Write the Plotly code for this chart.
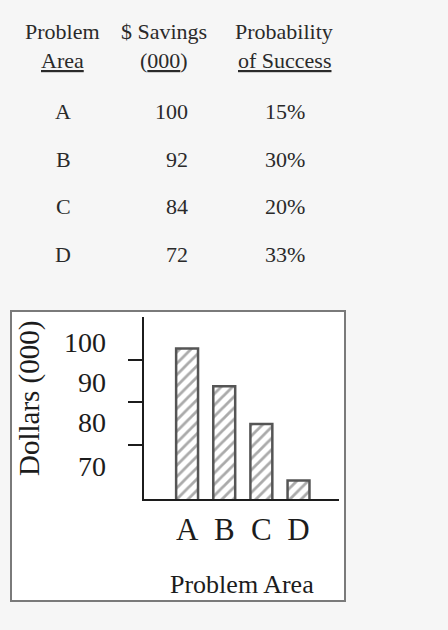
import plotly.graph_objects as go

# ---- data ----
categories = ["A", "B", "C", "D"]
savings = [100, 92, 84, 72]
probability = [15, 30, 20, 33]
y_tick_labels = ["100", "90", "80", "70"]

W, H = 448, 630
FONT = "Liberation Serif"
INK = "#1c1c1c"
BG = "#f6f6f6"


def px(x):
    return x / W


def py(y):
    return 1 - y / H


fig = go.Figure()

fig.add_trace(go.Bar(
    x=categories,
    y=savings,
    marker=dict(
        color="white",
        line=dict(color="#555555", width=2.5),
        pattern=dict(shape="/", fgcolor="#555555", bgcolor="white",
                     size=8, solidity=0.35),
    ),
    width=0.59,
    showlegend=False,
    hoverinfo="x+y",
))

annotations = []

# ---- table ----
tfont = dict(family=FONT, size=22, color="#2a2a2a")
col_x = [62, 164, 284]
headers1 = ["Problem", "$ Savings", "Probability"]
headers2 = ["<u>Area</u>", "(<u>000</u>)", "<u>of Success</u>"]
for cx, h1, h2 in zip(col_x, headers1, headers2):
    annotations.append(dict(x=px(cx), y=py(31), xref="paper", yref="paper",
                            text=h1, showarrow=False, font=tfont,
                            xanchor="center", yanchor="middle"))
    annotations.append(dict(x=px(cx), y=py(61), xref="paper", yref="paper",
                            text=h2, showarrow=False, font=tfont,
                            xanchor="center", yanchor="middle"))

row_y = [111, 159, 207, 254]
for ry, cat, sv, pr in zip(row_y, categories, savings, probability):
    annotations.append(dict(x=px(63), y=py(ry), xref="paper", yref="paper",
                            text=cat, showarrow=False, font=tfont,
                            xanchor="center", yanchor="middle"))
    annotations.append(dict(x=px(190), y=py(ry), xref="paper", yref="paper",
                            text=str(sv), showarrow=False, font=tfont,
                            xanchor="right", yanchor="middle"))
    annotations.append(dict(x=px(285), y=py(ry), xref="paper", yref="paper",
                            text=f"{pr}%", showarrow=False, font=tfont,
                            xanchor="center", yanchor="middle"))

# ---- chart tick labels (drawn offset from the tick marks, as in the source) ----
label_py = [342, 382, 423, 466]
for lab, ly in zip(y_tick_labels, label_py):
    annotations.append(dict(x=px(108), y=py(ly), xref="paper", yref="paper",
                            text=lab, showarrow=False,
                            font=dict(family=FONT, size=28, color=INK),
                            xanchor="right", yanchor="middle"))

# y axis title
annotations.append(dict(x=px(29), y=py(399), xref="paper", yref="paper",
                        text="Dollars (000)", showarrow=False, textangle=-90,
                        font=dict(family=FONT, size=29, color=INK),
                        xanchor="center", yanchor="middle"))

# x axis title
annotations.append(dict(x=px(242), y=py(584), xref="paper", yref="paper",
                        text="Problem Area", showarrow=False,
                        font=dict(family=FONT, size=26, color=INK),
                        xanchor="center", yanchor="middle"))

shapes = [dict(type="rect", xref="paper", yref="paper",
               x0=px(11), x1=px(345), y0=py(601), y1=py(311),
               fillcolor="white", line=dict(color="#7a7a7a", width=2),
               layer="below")]

fig.update_layout(
    width=W, height=H,
    margin=dict(l=0, r=0, t=0, b=0),
    paper_bgcolor=BG,
    plot_bgcolor="rgba(0,0,0,0)",
    annotations=annotations,
    shapes=shapes,
    xaxis=dict(
        domain=[px(144), px(339)],
        range=[-1.16, 4.09],
        showgrid=False, zeroline=False,
        showline=True, linecolor=INK, linewidth=2,
        ticks="", tickfont=dict(family=FONT, size=31, color=INK),
        ticklabelstandoff=2,
        fixedrange=True,
    ),
    yaxis=dict(
        domain=[py(499), py(317)],
        range=[68.1, 106.7],
        showgrid=False, zeroline=False,
        showline=True, linecolor=INK, linewidth=2,
        ticks="outside", ticklen=14, tickwidth=2, tickcolor=INK,
        tickvals=[97.6, 88.7, 79.6],
        showticklabels=False,
        fixedrange=True,
    ),
)

fig.write_html(
    "out.html",
    config=dict(displayModeBar=False, staticPlot=True),
    post_script=(
        "document.body.style.margin='0';"
        "document.body.style.padding='0';"
        "document.body.style.background='" + BG + "';"
    ),
)
